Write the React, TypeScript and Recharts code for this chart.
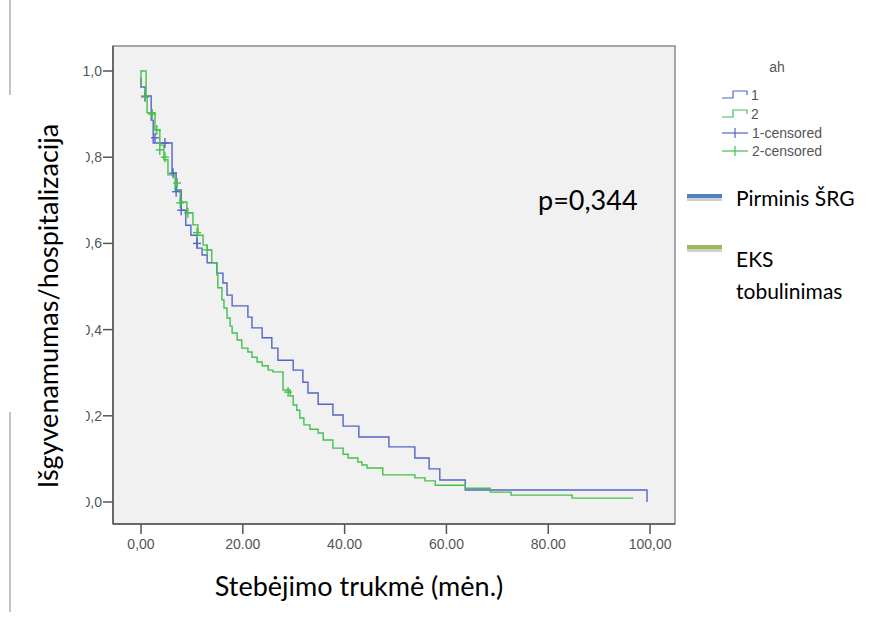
import { ComposedChart, Line, Scatter, XAxis, YAxis, CartesianGrid, ReferenceArea } from 'recharts'

// Pirminis ŠRG (grupė 1)
const blueTime = [0, 0, 0.8, 2.0, 2.4, 6.1, 6.9, 7.9, 8.8, 9.8, 11.0, 12.0, 13.0, 14.9, 16.1, 16.9, 17.9, 21.0, 21.8, 23.8, 25.7, 26.9, 29.9, 31.8, 32.8, 34.8, 37.7, 39.7, 42.8, 48.7, 53.8, 56.6, 58.7, 63.7, 99.4]
const blueSurv = [0.985, 0.963, 0.942, 0.886, 0.833, 0.763, 0.724, 0.677, 0.642, 0.619, 0.589, 0.573, 0.555, 0.531, 0.508, 0.48, 0.455, 0.429, 0.404, 0.381, 0.357, 0.329, 0.306, 0.278, 0.253, 0.227, 0.202, 0.176, 0.151, 0.128, 0.102, 0.077, 0.051, 0.028, 0.0]

// EKS tobulinimas (grupė 2)
const greenTime = [0, 0, 1.0, 1.2, 2.75, 3.7, 4.5, 5.3, 6.7, 7.7, 9.0, 10.2, 11.2, 12.2, 13.0, 13.9, 14.9, 15.1, 15.9, 16.3, 16.9, 17.5, 17.9, 18.9, 19.8, 21.0, 21.8, 22.8, 23.8, 25.0, 25.9, 27.9, 29.3, 29.9, 30.6, 31.2, 32.0, 33.2, 34.8, 35.8, 37.7, 39.7, 40.7, 42.6, 43.4, 44.4, 47.5, 53.8, 55.8, 57.8, 63.7, 68.6, 72.7, 84.7, 96.5]
const greenSurv = [0.965, 1.0, 0.942, 0.903, 0.863, 0.828, 0.794, 0.759, 0.724, 0.696, 0.671, 0.643, 0.619, 0.596, 0.585, 0.555, 0.527, 0.497, 0.469, 0.45, 0.427, 0.408, 0.392, 0.376, 0.357, 0.348, 0.336, 0.325, 0.316, 0.306, 0.302, 0.26, 0.246, 0.225, 0.213, 0.195, 0.179, 0.169, 0.16, 0.144, 0.125, 0.111, 0.102, 0.093, 0.086, 0.079, 0.063, 0.056, 0.049, 0.039, 0.032, 0.023, 0.016, 0.009, 0.007]

// cenzūruoti stebėjimai
const blueCensTime = [0.8, 2.75, 4.7, 6.3, 6.9, 7.9, 11.0]
const blueCensSurv = [0.94, 0.845, 0.833, 0.763, 0.72, 0.677, 0.6]
const greenCensTime = [0.8, 2.2, 3.1, 3.7, 4.7, 7.1, 7.7, 9.2, 11.0, 13.0, 28.9]
const greenCensSurv = [0.942, 0.9, 0.863, 0.817, 0.8, 0.74, 0.694, 0.671, 0.625, 0.585, 0.255]

const xTicks = [0, 20, 40, 60, 80, 100]
const xTickLabels = ['0,00', '20.00', '40.00', '60.00', '80.00', '100,00']
const yTicks = [0, 0.2, 0.4, 0.6, 0.8, 1.0]
const yTickLabels = ['0,0', '0,2', '0,4', '0,6', '0,8', '1,0']

const BLUE = '#5366c6'
const GREEN = '#45bf4e'
const X_DOMAIN = [-5.5, 104.9]
const Y_DOMAIN = [-0.051, 1.058]

const toPoints = (ts: number[], ss: number[]) => ts.map((t, i) => ({ t, s: ss[i] }))

const plus = (color: string) => (props: any) => {
  const { cx, cy } = props
  return (
    <g stroke={color} strokeWidth={1.4}>
      <line x1={cx - 4} y1={cy} x2={cx + 4} y2={cy} />
      <line x1={cx} y1={cy - 5} x2={cx} y2={cy + 5} />
    </g>
  )
}

const tickFont = { fontSize: 14, fill: '#555', fontFamily: 'Liberation Sans, Arial, sans-serif' }
const bigFont = 'Lato, Calibri, sans-serif'

export default function App() {
  return (
    <div style={{ position: 'absolute', left: 0, top: 0, width: 894, height: 618, background: '#fff' }}>
      <ComposedChart width={894} height={618} margin={{ top: 46, right: 219, bottom: 64, left: 83 }}>
        <CartesianGrid fill="#f1f1f1" horizontal={false} vertical={false} />
        <XAxis
          type="number"
          dataKey="t"
          domain={X_DOMAIN}
          allowDataOverflow
          ticks={xTicks}
          interval={0}
          tickFormatter={(v: number) => xTickLabels[xTicks.indexOf(v)]}
          height={30}
          tickSize={10}
          tickMargin={5}
          tick={tickFont}
          stroke="#555"
          strokeWidth={1.5}
        />
        <YAxis
          type="number"
          dataKey="s"
          domain={Y_DOMAIN}
          allowDataOverflow
          ticks={yTicks}
          interval={0}
          tickFormatter={(v: number) => yTickLabels[yTicks.indexOf(v)]}
          width={30}
          tickSize={10}
          tickMargin={1}
          tick={tickFont}
          stroke="#555"
          strokeWidth={1.5}
        />
        <ReferenceArea x1={X_DOMAIN[0]} x2={X_DOMAIN[1]} y1={Y_DOMAIN[0]} y2={Y_DOMAIN[1]} fill="none" stroke="#8a8a8a" strokeWidth={1.5} />
        <Line data={toPoints(blueTime, blueSurv)} type="stepAfter" dataKey="s" stroke={BLUE} strokeWidth={1.4} dot={false} isAnimationActive={false} />
        <Line data={toPoints(greenTime, greenSurv)} type="stepAfter" dataKey="s" stroke={GREEN} strokeWidth={1.4} dot={false} isAnimationActive={false} />
        <Scatter data={toPoints(blueCensTime, blueCensSurv)} dataKey="s" shape={plus(BLUE)} isAnimationActive={false} />
        <Scatter data={toPoints(greenCensTime, greenCensSurv)} dataKey="s" shape={plus(GREEN)} isAnimationActive={false} />
      </ComposedChart>

      <svg width={894} height={618} style={{ position: 'absolute', left: 0, top: 0, pointerEvents: 'none' }}>
        {/* puslapio kraštinė */}
        <line x1={10} y1={0} x2={10} y2={95} stroke="#c4c4c4" strokeWidth={2} />
        <line x1={10} y1={412} x2={10} y2={612} stroke="#c4c4c4" strokeWidth={2} />
        {/* ašies pavadinimo laukas */}
        <rect x={12} y={95} width={74} height={420} fill="#fff" />
        <text x={0} y={0} transform="translate(58,306) rotate(-90)" textAnchor="middle" fontFamily={bigFont} fontSize={27} fill="#000">
          Išgyvenamumas/hospitalizacija
        </text>
        <text x={359} y={596} textAnchor="middle" fontFamily={bigFont} fontSize={27} fill="#000">
          Stebėjimo trukmė (mėn.)
        </text>
        <text x={538} y={210} fontFamily={bigFont} fontSize={27} fill="#000">p=0,344</text>

        {/* SPSS legenda */}
        <g fontFamily="Liberation Sans, Arial, sans-serif" fontSize={14} fill="#555">
          <text x={777} y={72} textAnchor="middle">ah</text>
          <path d="M722,98 H733 V91 H747 V95" fill="none" stroke={BLUE} strokeWidth={1.2} />
          <text x={751} y={100}>1</text>
          <path d="M722,117 H733 V110 H747 V114" fill="none" stroke={GREEN} strokeWidth={1.2} />
          <text x={751} y={119}>2</text>
          <line x1={722} y1={133} x2={748} y2={133} stroke={BLUE} strokeWidth={1.2} />
          <line x1={735} y1={128} x2={735} y2={138} stroke={BLUE} strokeWidth={1.2} />
          <text x={752} y={138}>1-censored</text>
          <line x1={722} y1={151} x2={748} y2={151} stroke={GREEN} strokeWidth={1.2} />
          <line x1={735} y1={146} x2={735} y2={156} stroke={GREEN} strokeWidth={1.2} />
          <text x={752} y={156}>2-censored</text>
        </g>

        {/* Office legenda */}
        <rect x={687} y={197} width={35} height={4} fill="#d0d0d0" />
        <rect x={687} y={194} width={35} height={4} fill="#4f81bd" />
        <rect x={687} y={248} width={35} height={4} fill="#d0d0d0" />
        <rect x={687} y={245} width={35} height={4} fill="#9bbb59" />
        <g fontFamily={bigFont} fontSize={21} fill="#000">
          <text x={736} y={206}>Pirminis ŠRG</text>
          <text x={736} y={267}>EKS</text>
          <text x={736} y={299}>tobulinimas</text>
        </g>
      </svg>
    </div>
  )
}
